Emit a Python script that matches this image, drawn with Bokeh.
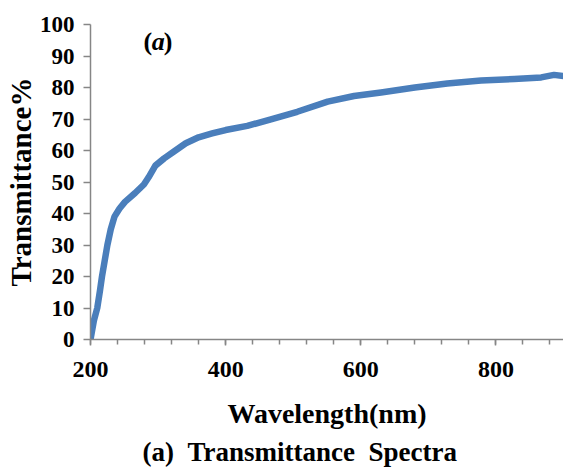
from bokeh.plotting import figure
from bokeh.models import FixedTicker, Label, Title
from bokeh.embed import file_html
from bokeh.resources import INLINE

wavelength = [200, 205, 210, 214, 217, 221, 225, 230, 235.5, 243, 251, 266, 279, 286, 296, 309,
              323, 341, 360, 380, 400, 432, 467, 506, 551, 590, 630, 680, 728, 778, 827,
              867, 886, 900]
transmittance = [0, 6, 10, 15.5, 20, 25, 30, 35, 39, 41.6, 43.7, 46.5, 49.2, 51.5, 55.2, 57.5,
                 59.6, 62.3, 64.2, 65.4, 66.5, 67.8, 69.9, 72.3, 75.5, 77.3, 78.4, 80.0, 81.3, 82.2, 82.7,
                 83.2, 84.0, 83.6]
x_major = [200, 400, 600, 800]
x_minor = [200 + 40 * k for k in range(18)]
y_major = [0, 10, 20, 30, 40, 50, 60, 70, 80, 90, 100]

FONT = "Liberation Serif"
AXIS_COLOR = "#868686"
NB = "\u00a0"

p = figure(width=563, height=470, x_range=(200, 900), y_range=(0, 100),
           output_backend="svg", toolbar_location=None,
           min_border_left=90, min_border_right=0, min_border_top=24, min_border_bottom=131)
p.outline_line_color = None
p.grid.visible = False
p.background_fill_color = "white"
p.border_fill_color = "white"

p.line(wavelength, transmittance, line_width=6.5, line_color="#4A7EBB", line_join="round", line_cap="round")

xa = p.xaxis[0]
xa.ticker = FixedTicker(ticks=x_major, minor_ticks=x_minor)
xa.axis_line_color = AXIS_COLOR
xa.axis_line_width = 1.5
xa.major_tick_line_color = AXIS_COLOR
xa.minor_tick_line_color = AXIS_COLOR
xa.major_tick_line_width = 1.5
xa.minor_tick_line_width = 1.5
xa.major_tick_in = 0
xa.major_tick_out = 6
xa.minor_tick_in = 0
xa.minor_tick_out = 5
xa.major_label_text_font = FONT
xa.major_label_text_font_style = "bold"
xa.major_label_text_font_size = "24px"
xa.major_label_text_color = "black"
xa.major_label_standoff = 16
xa.axis_label = "Wavelength(nm)"
xa.axis_label_text_font = FONT
xa.axis_label_text_font_style = "bold"
xa.axis_label_text_font_size = "28px"
xa.axis_label_text_color = "black"
xa.axis_label_standoff = 18

ya = p.yaxis[0]
ya.ticker = FixedTicker(ticks=y_major, minor_ticks=[])
ya.axis_line_color = AXIS_COLOR
ya.axis_line_width = 1.5
ya.major_tick_line_color = AXIS_COLOR
ya.major_tick_line_width = 1.5
ya.major_tick_in = 0
ya.major_tick_out = 7
ya.minor_tick_line_color = None
ya.major_label_text_font = FONT
ya.major_label_text_font_style = "bold"
ya.major_label_text_font_size = "23px"
ya.major_label_text_color = "black"
ya.major_label_standoff = 9
ya.axis_label = "Transmittance%"
ya.axis_label_text_font = FONT
ya.axis_label_text_font_style = "bold"
ya.axis_label_text_font_size = "29px"
ya.axis_label_text_color = "black"
ya.axis_label_standoff = 0

p.add_layout(Title(text="(a)" + NB + NB + "Transmittance" + NB + NB + "Spectra",
                   align="left", offset=52, standoff=6,
                   text_font=FONT, text_font_size="27px", text_font_style="bold",
                   text_color="black"), "below")

for txt, xpos, style in [("(", 278.5, "bold"), ("a", 290.8, "bold italic"), (")", 308.5, "bold")]:
    p.add_layout(Label(x=xpos, y=94.5, text=txt, text_font=FONT, text_font_size="26px",
                       text_font_style=style, text_color="black", text_baseline="alphabetic"))

open("out.html", "w").write(file_html(p, INLINE))
